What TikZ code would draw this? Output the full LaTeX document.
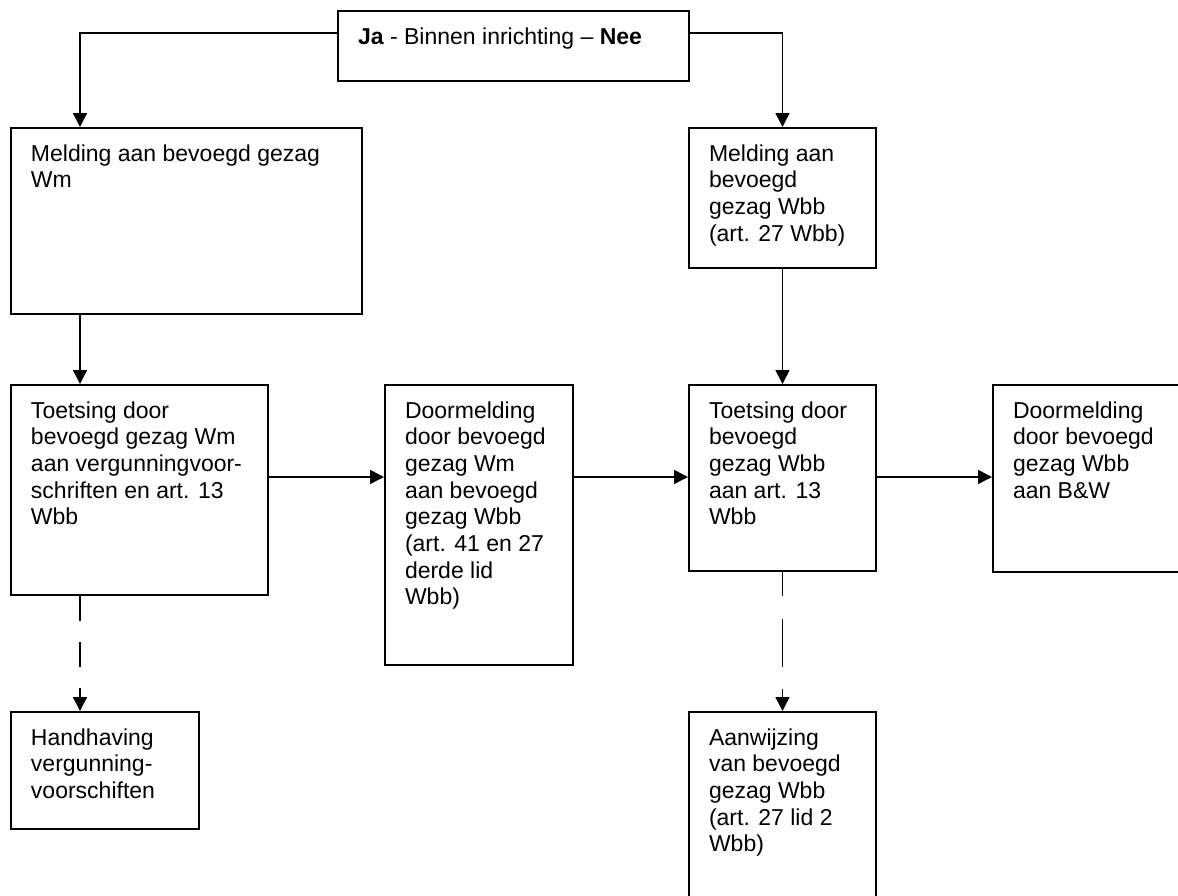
\documentclass[tikz,border=0pt]{standalone}
\usepackage{fontspec}
\setmainfont{Liberation Sans}
\usetikzlibrary{arrows.meta}

\tikzset{
    box/.style 2 args={draw, line width=1pt, anchor=north west, inner xsep=10pt, inner ysep=0pt,
        font=\fontsize{11.5pt}{13.35pt}\selectfont,
        execute at begin node={\begin{minipage}[t][#2][t]{#1}\vspace*{7.2pt}\strut},
        execute at end node={\end{minipage}}},
    pijl/.style={line width=0.75pt, -{Triangle[length=7pt, width=7pt]}},
    streep/.style={dash pattern=on 12.5pt off 10.5pt}
}

\begin{document}
\begin{tikzpicture}[x=0.5pt, y=-0.5pt]
        \useasboundingbox (0,0) rectangle (1178,895);

        % Question at the top
        \node[box={155.5pt}{35pt}] (vraag) at (337,10) {\textbf{Ja} - Binnen inrichting -- \textbf{Nee}};

        % First row
        \node[box={155.5pt}{93pt}] (meldWm) at (10,127) {Melding aan bevoegd gezag\\Wm};
        \node[box={73.5pt}{70pt}] (meldWbb) at (688,127) {Melding aan\\bevoegd\\gezag Wbb\\(art. 27 Wbb)};

        % Second row
        \node[box={108.5pt}{105pt}] (toetsWm) at (10,384) {Toetsing door\\bevoegd gezag Wm\\aan vergunningvoor-\\schriften en art. 13\\Wbb};
        \node[box={74pt}{140pt}] (doorWm) at (384,384) {Doormelding\\door bevoegd\\gezag Wm\\aan bevoegd\\gezag Wbb\\(art. 41 en 27\\derde lid\\Wbb)};
        \node[box={73.5pt}{93pt}] (toetsWbb) at (688,384) {Toetsing door\\bevoegd\\gezag Wbb\\aan art. 13\\Wbb};
        \node[box={74pt}{93.5pt}] (doorWbb) at (992,384) {Doormelding\\door bevoegd\\gezag Wbb\\aan B\&W};

        % Third row
        \node[box={74pt}{58.5pt}] (handh) at (10,711) {Handhaving\\vergunning-\\voorschiften};
        \node[box={73.5pt}{95pt}] (aanw) at (688,711) {Aanwijzing\\van bevoegd\\gezag Wbb\\(art. 27 lid 2\\Wbb)};

        % Ja / Nee branches
        \coordinate (ja) at ([yshift=-11.5pt]vraag.north west);
        \coordinate (nee) at ([yshift=-11.5pt]vraag.north east);
        \draw[pijl] (ja) -| ([xshift=35pt]meldWm.north west);
        \draw[pijl] (nee) -| (meldWbb.north);

        % Downward arrows
        \draw[pijl] ([xshift=35pt]meldWm.south west) -- ([xshift=35pt]toetsWm.north west);
        \draw[pijl] (meldWbb.south) -- (toetsWbb.north);

        % Arrows along the second row
        \draw[pijl] ([yshift=-46.5pt]toetsWm.north east) -- ([yshift=-46.5pt]doorWm.north west);
        \draw[pijl] ([yshift=-46.5pt]doorWm.north east) -- ([yshift=-46.5pt]toetsWbb.north west);
        \draw[pijl] ([yshift=-46.5pt]toetsWbb.north east) -- ([yshift=-46.5pt]doorWbb.north west);

        % Dashed arrows
        \draw[pijl, streep] ([xshift=35pt]toetsWm.south west) -- ([xshift=35pt]handh.north west);
        \draw[pijl, dash pattern=on 12pt off 11.5pt on 24pt off 11pt] (toetsWbb.south) -- (aanw.north);
\end{tikzpicture}
\end{document}
